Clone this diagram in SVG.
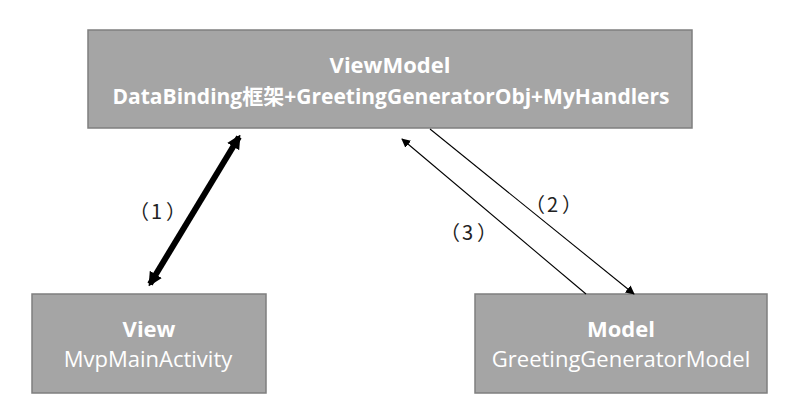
<svg xmlns="http://www.w3.org/2000/svg" width="786" height="414" viewBox="0 0 786 414">
<style>
.box{fill:#a5a5a5;stroke:#7f7f7f;stroke-width:1.5}
.t{fill:#fff;font-family:"Open Sans","Noto Sans","Noto Sans CJK SC",sans-serif;font-size:22px;text-anchor:middle}
.b{font-weight:bold}
.l2{font-size:21px}
.lbl{fill:#222;font-family:"Noto Sans CJK SC",sans-serif;font-size:20px}
.thin{stroke:#000;stroke-width:1.1;fill:none}
</style>
<defs>
<marker id="ah" viewBox="0 0 10 10" refX="9" refY="5" markerWidth="9" markerHeight="9" markerUnits="userSpaceOnUse" orient="auto"><path d="M0,0 L10,5 L0,10 z" fill="#000"/></marker>
<marker id="ahb" viewBox="0 0 10 10" refX="8" refY="5" markerWidth="14" markerHeight="16" markerUnits="userSpaceOnUse" orient="auto-start-reverse"><path d="M0,0 L10,5 L0,10 z" fill="#000"/></marker>
</defs>
<rect width="786" height="414" fill="#fff"/>
<g id="viewmodel">
<rect class="box" x="88" y="30" width="604" height="98"/>
<text class="t b" x="390" y="73">ViewModel</text>
<text class="t b l2" x="391" y="104">DataBinding框架+GreetingGeneratorObj+MyHandlers</text>
</g>
<g id="view">
<rect class="box" x="32" y="294" width="234" height="99"/>
<text class="t b" x="149" y="337">View</text>
<text class="t" x="148" y="367">MvpMainActivity</text>
</g>
<g id="model">
<rect class="box" x="475" y="294" width="292" height="99"/>
<text class="t b" x="621" y="337">Model</text>
<text class="t" x="621" y="367">GreetingGeneratorModel</text>
</g>
<g id="connectors">
<line x1="239" y1="137" x2="150" y2="284" stroke="#000" stroke-width="6" marker-start="url(#ahb)" marker-end="url(#ahb)"/>
<line class="thin" x1="430" y1="129" x2="634" y2="294" marker-end="url(#ah)"/>
<line class="thin" x1="586" y1="294" x2="402" y2="139" marker-end="url(#ah)"/>
<text class="lbl" x="129" y="219">（<tspan dx="2">1</tspan><tspan dx="4">）</tspan></text>
<text class="lbl" x="525" y="212">（<tspan dx="2">2</tspan><tspan dx="4">）</tspan></text>
<text class="lbl" x="440" y="240">（<tspan dx="2">3</tspan><tspan dx="4">）</tspan></text>
</g>
</svg>
